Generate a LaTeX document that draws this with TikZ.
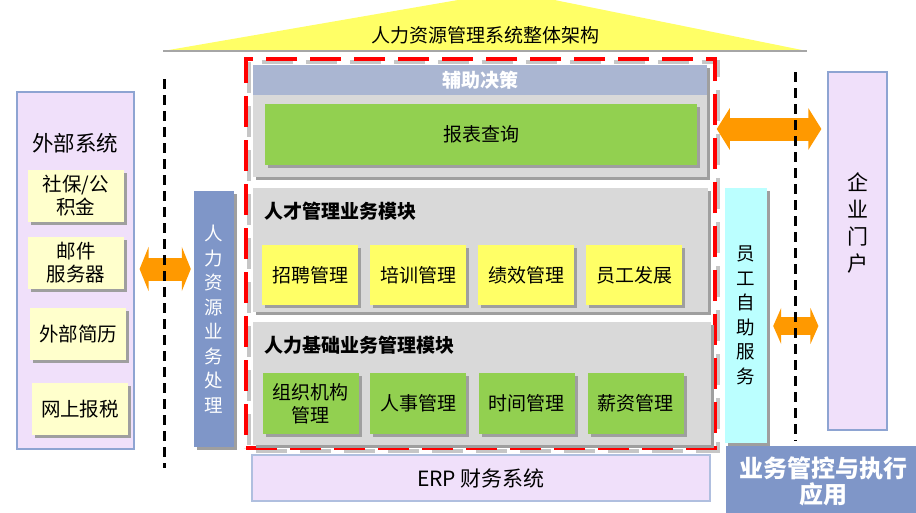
\documentclass[tikz,border=0pt]{standalone}
\usepackage{fontspec}
\setmainfont{Noto Sans CJK SC}
\usetikzlibrary{arrows.meta,positioning,shadows}
\definecolor{roofyellow}{HTML}{FFFF66}
\definecolor{hdrblue}{HTML}{AAB6D2}
\definecolor{panelgray}{HTML}{D9D9D9}
\definecolor{leafgreen}{HTML}{92D050}
\definecolor{lightlilac}{HTML}{F0E0FA}
\definecolor{lilacedge}{HTML}{8EA4D2}
\definecolor{paleyellow}{HTML}{FFFFCC}
\definecolor{procblue}{HTML}{7F96C8}
\definecolor{selfcyan}{HTML}{BBFFFF}
\definecolor{arroworange}{HTML}{FF9900}

\begin{document}
\begin{tikzpicture}
	[x=1pt,y=-1pt,font=\fontsize{19}{22}\selectfont,
	shade box/.style={shape=rectangle,inner sep=0pt,align=center,
		drop shadow={shadow xshift=3pt,shadow yshift=-3pt,fill=gray!75,opacity=1}},
	panel box/.style={shade box,fill=panelgray},
	leaf box/.style={shade box,fill=#1,minimum width=96pt},
	ext item/.style={shade box,fill=paleyellow,minimum width=96pt,minimum height=52pt,
		font=\fontsize{19.5}{23}\selectfont},
	lilac box/.style={shape=rectangle,inner sep=0pt,fill=lightlilac,draw=lilacedge,line width=1.2pt},
	vert text/.style={align=center,font=\fontsize{18.5}{24.5}\selectfont},
	sep line/.style={black,line width=3pt,dash pattern=on 10pt off 6pt},
	link/.style={arroworange,line width=#1}]
	\useasboundingbox (0,0) rectangle (916,512);
	\clip (0,0) rectangle (916,512);
	
	% roof
	\fill[roofyellow] (163,51) -- (510,-9) -- (807,51) -- cycle;
	\draw[gray!70,line width=1.5pt] (163,51) -- (807,51);
	\node (roof title) at (485,35) {人力资源管理系统整体架构};
	
	% red frame
	\draw[gray!45,line width=3.5pt,dash pattern=on 31pt off 13pt] (249,62) rectangle (718,451);
	\node [draw=red,line width=3.5pt,dash pattern=on 31pt off 13pt,minimum width=469pt,minimum height=389pt] (frame) at (480.5,253.5) {};
	
	% decision support
	\node [panel box,minimum width=454pt,minimum height=112pt] (dss) at (480,121) {};
	\node [fill=hdrblue,minimum width=454pt,minimum height=30pt,inner sep=0pt,text=white,font=\fontsize{19}{22}\selectfont\bfseries] (dss head) at (480,80) {辅助决策};
	\node [leaf box=leafgreen,minimum width=432pt,minimum height=61pt] (report) at (481,134.5) {报表查询};
	
	% talent modules
	\node [panel box,minimum width=455pt,minimum height=124pt] (talent) at (480.5,250) {};
	\node [anchor=west,font=\fontsize{19}{22}\selectfont\bfseries] (talent title) at (261,211) {人才管理业务模块};
	\node [leaf box=roofyellow,minimum height=60pt] (recruit) at (310,275) {招聘管理};
	\node [leaf box=roofyellow,minimum height=60pt] (train) at (418,275) {培训管理};
	\node [leaf box=roofyellow,minimum height=60pt] (perf) at (526,275) {绩效管理};
	\node [leaf box=roofyellow,minimum height=60pt] (growth) at (634,275) {员工发展};
	
	% base modules
	\node [panel box,minimum width=458pt,minimum height=123pt] (base) at (482,383.5) {};
	\node [anchor=west,font=\fontsize{19}{22}\selectfont\bfseries] (base title) at (261,345) {人力基础业务管理模块};
	\node [leaf box=leafgreen,minimum height=61pt,font=\fontsize{19}{23}\selectfont] (org) at (310.5,403.5) {组织机构\\管理};
	\node [leaf box=leafgreen,minimum height=61pt] (staff) at (418,403.5) {人事管理};
	\node [leaf box=leafgreen,minimum height=61pt] (time) at (526.5,403.5) {时间管理};
	\node [leaf box=leafgreen,minimum height=61pt] (pay) at (635.5,403.5) {薪资管理};
	
	\node [lilac box,draw=lilacedge!70,minimum width=458pt,minimum height=46pt,font=\fontsize{21}{24}\selectfont] (erp) at (481,478) {ERP 财务系统};
	
	% external systems
	\node [lilac box,minimum width=117pt,minimum height=357pt] (ext) at (75.5,270.5) {};
	\node [font=\fontsize{21.5}{24}\selectfont] (ext title) at (75,143) {外部系统};
	\node [ext item] (fund) at (76,196) {社保/公\\积金};
	\node [ext item] (mail) at (76,262.5) {邮件\\服务器};
	\node [ext item] (resume) at (78,334) {外部简历};
	\node [ext item] (tax) at (80,409) {网上报税};
	
	\node [shade box,fill=procblue,text=white,vert text,minimum width=40pt,minimum height=256pt] (proc) at (214,319) {人\\力\\资\\源\\业\\务\\处\\理};
	
	% right side
	\node [shade box,fill=selfcyan,vert text,minimum width=42pt,minimum height=255pt] (self) at (746,315.5) {员\\工\\自\\助\\服\\务};
	\node [lilac box,minimum width=59pt,minimum height=358pt] (portal) at (857.5,251) {};
	\node [vert text,font=\fontsize{21}{26.7}\selectfont] (portal text) at ([yshift=28pt]portal.center) {企\\业\\门\\户};
	\node [fill=procblue,inner sep=0pt,minimum width=194pt,minimum height=70pt,align=center,text=white,
		font=\fontsize{24}{26}\selectfont\bfseries] (control) at (823,481) {业务管控与执行\\应用};
	
	% links
	\coordinate (left link) at (164,269);
	\coordinate (top link) at (770,129);
	\coordinate (self link) at (796,326);
	\draw[link=23pt,{Triangle[length=9pt,width=44pt]}-{Triangle[length=9pt,width=44pt]},shorten <=5pt,shorten >=3pt]
		(ext.east |- left link) -- (proc.west |- left link);
	\draw[link=23pt,{Triangle[length=13pt,width=41pt]}-{Triangle[length=13pt,width=41pt]},shorten >=6pt]
		(frame.east |- top link) -- (portal.west |- top link);
	\draw[link=18pt,{Triangle[length=8pt,width=36pt]}-{Triangle[length=8pt,width=36pt]},shorten <=6pt,shorten >=9pt]
		(self.east |- self link) -- (portal.west |- self link);
	
	% separators
	\coordinate (lsep top) at (164,79);
	\coordinate (lsep bot) at (164,468);
	\coordinate (rsep top) at (795,72);
	\coordinate (rsep bot) at (795,441);
	\draw[sep line] (lsep top) -- (lsep bot);
	\draw[sep line] (rsep top) -- (rsep bot);
	
\end{tikzpicture}
\end{document}
